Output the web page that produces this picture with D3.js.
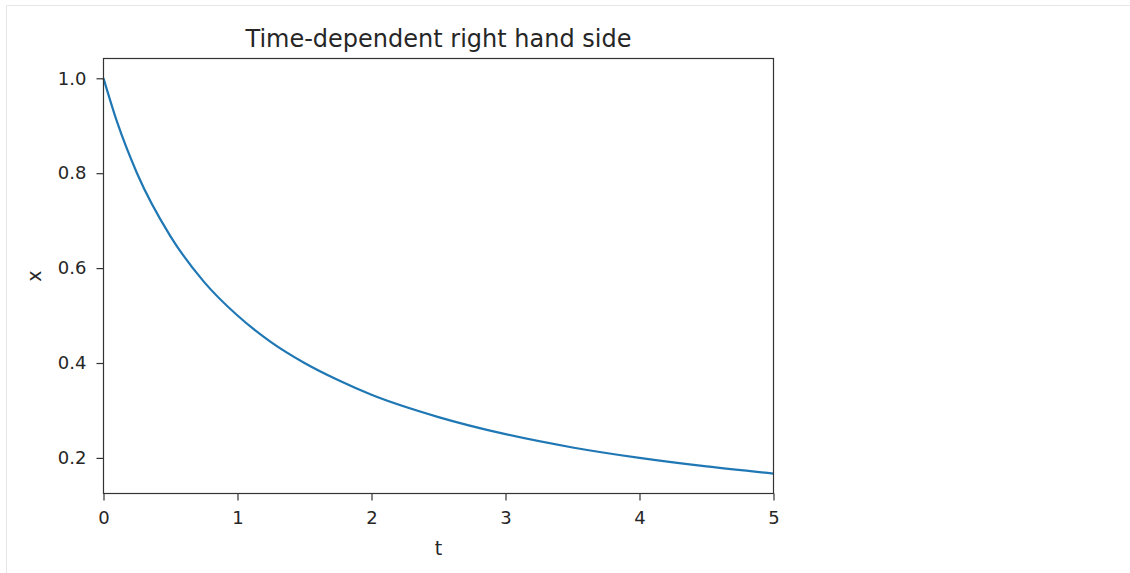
<!DOCTYPE html>
<html>
<head>
<meta charset="utf-8">
<script src="https://cdn.jsdelivr.net/npm/d3@7"></script>
<style>
  body { margin: 0; background: #fff; }
  text { font-family: "DejaVu Sans", sans-serif; fill: #262626; }
</style>
</head>
<body>
<div id="chart"></div>
<script>
// values
var tValues = [0, 0.1, 0.25, 0.5, 0.75, 1, 1.25, 1.5, 1.75, 2, 2.5, 3, 3.5, 4, 4.5, 5];
var xValues = [1.0, 0.909, 0.80, 0.667, 0.571, 0.50, 0.444, 0.40, 0.364, 0.333, 0.286, 0.25, 0.222, 0.20, 0.182, 0.167];
var tTicks = [0, 1, 2, 3, 4, 5];
var xTicks = [0.2, 0.4, 0.6, 0.8, 1.0];

var width = 1130,
  height = 573;

var svg = d3.select("#chart").append("svg")
  .attr("width", width)
  .attr("height", height);

// notebook output frame
svg.append("path")
  .attr("d", "M6.5,573V5.5H1130")
  .attr("fill", "none")
  .attr("stroke", "#e6e6e6");

var plotLeft = 103.5, plotRight = 773.5, plotTop = 58.5, plotBottom = 493.5;

var xScale = d3.scaleLinear().domain([0, 5]).range([plotLeft, plotRight]);
var yScale = d3.scaleLinear().domain([0.125, 1.0417]).range([plotBottom, plotTop]);

var line = d3.line()
  .x(function(d, i) { return xScale(tValues[i]); })
  .y(function(d) { return yScale(d); })
  .curve(d3.curveMonotoneX);

svg.append("path")
  .datum(xValues)
  .attr("d", line)
  .attr("fill", "none")
  .attr("stroke", "#1f77b4")
  .attr("stroke-width", 2.2);

var xAxis = svg.append("g")
  .attr("transform", "translate(0," + plotBottom + ")")
  .call(d3.axisBottom(xScale).tickValues(tTicks).tickSize(7).tickPadding(11).tickFormat(d3.format("d")));

var yAxis = svg.append("g")
  .attr("transform", "translate(" + plotLeft + ",0)")
  .call(d3.axisLeft(yScale).tickValues(xTicks).tickSize(7).tickPadding(10).tickFormat(d3.format(".1f")));

[xAxis, yAxis].forEach(function(ax) {
  ax.attr("font-size", 18).attr("font-family", "DejaVu Sans, sans-serif");
  ax.select(".domain").remove();
  ax.selectAll("line").attr("stroke", "#333").attr("stroke-width", 1.2);
  ax.selectAll("text").attr("fill", "#262626");
});

// spines
svg.append("rect")
  .attr("x", plotLeft)
  .attr("y", plotTop)
  .attr("width", plotRight - plotLeft)
  .attr("height", plotBottom - plotTop)
  .attr("fill", "none")
  .attr("stroke", "#333")
  .attr("stroke-width", 1.2);

svg.append("text")
  .attr("x", (plotLeft + plotRight) / 2)
  .attr("y", 47)
  .attr("text-anchor", "middle")
  .style("font-size", "24px")
  .text("Time-dependent right hand side");

svg.append("text")
  .attr("x", (plotLeft + plotRight) / 2)
  .attr("y", 555)
  .attr("text-anchor", "middle")
  .style("font-size", "19px")
  .text("t");

svg.append("text")
  .attr("transform", "translate(41," + ((plotTop + plotBottom) / 2) + ") rotate(-90)")
  .attr("text-anchor", "middle")
  .style("font-size", "19px")
  .text("x");
</script>
</body>
</html>
